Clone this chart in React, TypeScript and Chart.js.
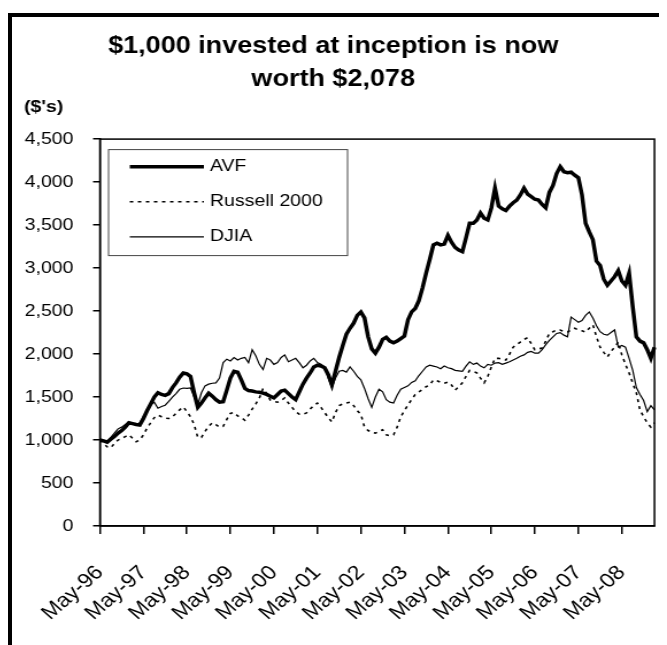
import React, { useEffect, useRef } from "react";
import { Chart, registerables } from "chart.js";

Chart.register(...registerables);

const TITLE = ["$1,000 invested at inception is now", "worth $2,078"];
const Y_UNIT = "($'s)";
const SERIES_NAMES = ["AVF", "Russell 2000", "DJIA"];
const MONTH_NAMES = ["Jan", "Feb", "Mar", "Apr", "May", "Jun", "Jul", "Aug", "Sep", "Oct", "Nov", "Dec"];
const START_MONTH = 4; // May
const START_YEAR = 1996;
const Y_TICKS = [0, 500, 1000, 1500, 2000, 2500, 3000, 3500, 4000, 4500];

// Monthly values, May-96 .. Feb-09
const avf = [
  1000, 990, 975, 1010, 1040, 1080, 1110, 1150, 1200, 1190, 1180, 1175,
  1250, 1340, 1420, 1500, 1550, 1530, 1520, 1540, 1610, 1665, 1730, 1780,
  1770, 1740, 1550, 1380, 1430, 1490, 1545, 1510, 1470, 1440, 1445, 1580,
  1720, 1800, 1790, 1700, 1600, 1575, 1570, 1560, 1555, 1545, 1530, 1510,
  1490, 1530, 1570, 1580, 1540, 1500, 1470, 1560, 1650, 1720, 1780, 1850,
  1870, 1860, 1840, 1760, 1640, 1800, 1960, 2100, 2230, 2300, 2360, 2450,
  2490, 2420, 2200, 2060, 2010, 2080, 2170, 2195, 2150, 2130, 2150, 2180,
  2210, 2400, 2490, 2530, 2620, 2770, 2940, 3100, 3270, 3290, 3270, 3280,
  3380, 3300, 3240, 3210, 3190, 3350, 3520, 3520, 3560, 3640, 3580, 3560,
  3700, 3930, 3720, 3690, 3670, 3720, 3760, 3790, 3850, 3930, 3860, 3830,
  3800, 3790, 3740, 3700, 3880, 3960, 4100, 4180, 4120, 4110, 4115, 4080,
  4050, 3850, 3520, 3420, 3330, 3080, 3030, 2870, 2800, 2850, 2900, 2970,
  2850, 2800, 2940, 2550, 2200, 2150, 2130, 2050, 1950, 2078,
];

const russell2000 = [
  1000, 960, 920, 910, 960, 1000, 1020, 1040, 1060, 1020, 980, 1000,
  1060, 1140, 1200, 1260, 1290, 1270, 1255, 1250, 1270, 1310, 1350, 1385,
  1330, 1270, 1180, 1030, 1030, 1100, 1160, 1200, 1180, 1150, 1160, 1240,
  1310, 1320, 1280, 1260, 1230, 1290, 1360, 1420, 1490, 1600, 1540, 1465,
  1450, 1440, 1460, 1490, 1430, 1380, 1330, 1300, 1300, 1315, 1360, 1400,
  1430, 1380, 1320, 1260, 1210, 1320, 1400, 1420, 1430, 1440, 1400, 1340,
  1300, 1150, 1110, 1090, 1080, 1100, 1120, 1060, 1050, 1060, 1150, 1270,
  1340, 1410, 1470, 1530, 1560, 1590, 1620, 1640, 1700, 1690, 1670, 1660,
  1675, 1640, 1580, 1620, 1665, 1740, 1810, 1800, 1780, 1720, 1665, 1740,
  1850, 1950, 1950, 1940, 1930, 2000, 2080, 2110, 2140, 2170, 2190, 2120,
  2050, 2060, 2070, 2150, 2240, 2260, 2280, 2280, 2260, 2256, 2280, 2300,
  2280, 2270, 2256, 2300, 2340, 2200, 2080, 2020, 1965, 2030, 2080, 2140,
  1990, 1880, 1780, 1660, 1550, 1350, 1270, 1200, 1150, 1200,
];

const djia = [
  1000, 990, 980, 1030, 1080, 1130, 1150, 1180, 1210, 1190, 1175, 1200,
  1270, 1340, 1410, 1440, 1370, 1390, 1405, 1450, 1500, 1540, 1590, 1605,
  1600, 1605, 1500, 1410, 1550, 1630, 1650, 1660, 1665, 1720, 1900, 1940,
  1920, 1960, 1930, 1950, 1960, 1900, 2050, 1980, 1880, 1820, 1950, 1930,
  1880, 1900, 1960, 1990, 1910, 1930, 1950, 1900, 1840, 1870, 1920, 1950,
  1900, 1880, 1850, 1720, 1610, 1720, 1800, 1810, 1790, 1850, 1800, 1740,
  1700, 1600, 1480, 1380, 1500, 1590, 1560, 1470, 1440, 1430, 1520, 1590,
  1610, 1630, 1670, 1690, 1750, 1800, 1850, 1870, 1860, 1850, 1830, 1860,
  1840, 1830, 1810, 1805, 1800, 1860, 1910, 1880, 1895, 1860, 1840, 1880,
  1870, 1895, 1900, 1880, 1895, 1910, 1930, 1950, 1975, 1990, 2020, 2030,
  2010, 2010, 2050, 2110, 2160, 2200, 2240, 2250, 2220, 2200, 2430, 2400,
  2370, 2390, 2450, 2490, 2420, 2330, 2260, 2230, 2220, 2250, 2280, 2080,
  2100, 2080, 1950, 1810, 1610, 1530, 1460, 1330, 1400, 1350,
];

const categories = avf.map((_, i) => {
  const m = START_MONTH + i;
  const yr = (START_YEAR + Math.floor(m / 12)) % 100;
  return `${MONTH_NAMES[m % 12]}-${String(yr).padStart(2, "0")}`;
});

const FONT = '"Liberation Sans", Arial, Helvetica, sans-serif';
const CANVAS_W = 570;
const CANVAS_H = 628;

const overlayPlugin = {
  id: "overlay",
  afterDraw(chart: any) {
    const { ctx, chartArea: a } = chart;
    ctx.save();
    // plot frame
    ctx.strokeStyle = "#000";
    ctx.lineWidth = 1.5;
    ctx.strokeRect(a.left, a.top, a.right - a.left, a.bottom - a.top);
    // unit label
    ctx.font = `bold 17px ${FONT}`;
    ctx.fillStyle = "#000";
    ctx.textAlign = "left";
    ctx.textBaseline = "middle";
    ctx.fillText(Y_UNIT, 10.4, 90);
    // legend box
    const bx = a.left + 7;
    const by = a.top + 10;
    const bw = 208;
    const bh = 106;
    ctx.fillStyle = "#fff";
    ctx.fillRect(bx, by, bw, bh);
    ctx.strokeStyle = "#444";
    ctx.lineWidth = 1;
    ctx.strokeRect(bx + 0.5, by + 0.5, bw, bh);
    chart.data.datasets.forEach((ds: any, i: number) => {
      const y = by + 17.7 + i * 35;
      ctx.beginPath();
      ctx.setLineDash(ds.borderDash || []);
      ctx.lineWidth = ds.borderWidth;
      ctx.strokeStyle = ds.borderColor;
      ctx.moveTo(bx + 19, y);
      ctx.lineTo(bx + 83.5, y);
      ctx.stroke();
      ctx.setLineDash([]);
      ctx.font = `17px ${FONT}`;
      ctx.fillStyle = "#000";
      ctx.fillText(ds.label, bx + 88.7, y);
    });
    ctx.restore();
  },
};

export default function App() {
  const ref = useRef<HTMLCanvasElement | null>(null);

  useEffect(() => {
    document.body.style.overflow = "hidden";
    const canvas = ref.current;
    if (!canvas) return;
    Chart.defaults.font.family = FONT;
    Chart.defaults.color = "#000";
    const chart = new Chart(canvas, {
      type: "line",
      data: {
        labels: categories,
        datasets: [
          {
            label: SERIES_NAMES[0],
            data: avf,
            borderColor: "#000",
            borderWidth: 3.5,
            pointRadius: 0,
            tension: 0,
          },
          {
            label: SERIES_NAMES[1],
            data: russell2000,
            borderColor: "#000",
            borderWidth: 1.6,
            borderDash: [3, 4],
            pointRadius: 0,
            tension: 0,
          },
          {
            label: SERIES_NAMES[2],
            data: djia,
            borderColor: "#000",
            borderWidth: 1.2,
            pointRadius: 0,
            tension: 0,
          },
        ],
      },
      options: {
        responsive: false,
        animation: false,
        devicePixelRatio: 1,
        layout: { padding: { top: 0, right: 10.9, bottom: 0, left: 0 } },
        plugins: {
          legend: { display: false },
          tooltip: { enabled: false },
          title: {
            display: true,
            text: TITLE,
            color: "#000",
            font: { size: 23.5, weight: "bold", lineHeight: 1.417 },
            padding: { top: 12.6, bottom: 42.9 },
          },
        },
        scales: {
          x: {
            type: "category",
            offset: false,
            afterBuildTicks: (s: any) => {
              s.ticks = s.ticks.filter((t: any) => categories[t.value].startsWith("May"));
            },
            afterFit: (s: any) => {
              s.height = 119;
              s.paddingLeft = 0;
              s.paddingRight = 0;
            },
            ticks: {
              autoSkip: false,
              minRotation: 45,
              maxRotation: 45,
              color: "#000",
              font: { size: 20 },
              padding: 27,
            },
            grid: { drawOnChartArea: false, drawTicks: true, tickLength: 8, color: "#000", lineWidth: 1.5 },
            border: { display: true, color: "#000", width: 1.5 },
          },
          y: {
            min: 0,
            max: 4500,
            afterBuildTicks: (s: any) => {
              s.ticks = Y_TICKS.map((v) => ({ value: v }));
            },
            afterFit: (s: any) => {
              s.width = 76.5;
            },
            ticks: {
              color: "#000",
              font: { size: 17 },
              padding: 17,
              callback: (v: any) => Number(v).toLocaleString("en-US"),
            },
            grid: { drawOnChartArea: false, drawTicks: true, tickLength: 6, color: "#000", lineWidth: 1.5 },
            border: { display: true, color: "#000", width: 1.5 },
          },
        },
      },
      plugins: [overlayPlugin],
    } as any);
    return () => chart.destroy();
  }, []);

  return (
    <div style={{ paddingTop: 5 }}>
      <div style={{ borderLeft: "4px solid #000", borderTop: "4px solid #000", height: CANVAS_H }}>
        <canvas
          ref={ref}
          width={CANVAS_W}
          height={CANVAS_H}
          style={{ width: "655px", height: `${CANVAS_H}px`, display: "block" }}
        />
      </div>
    </div>
  );
}
